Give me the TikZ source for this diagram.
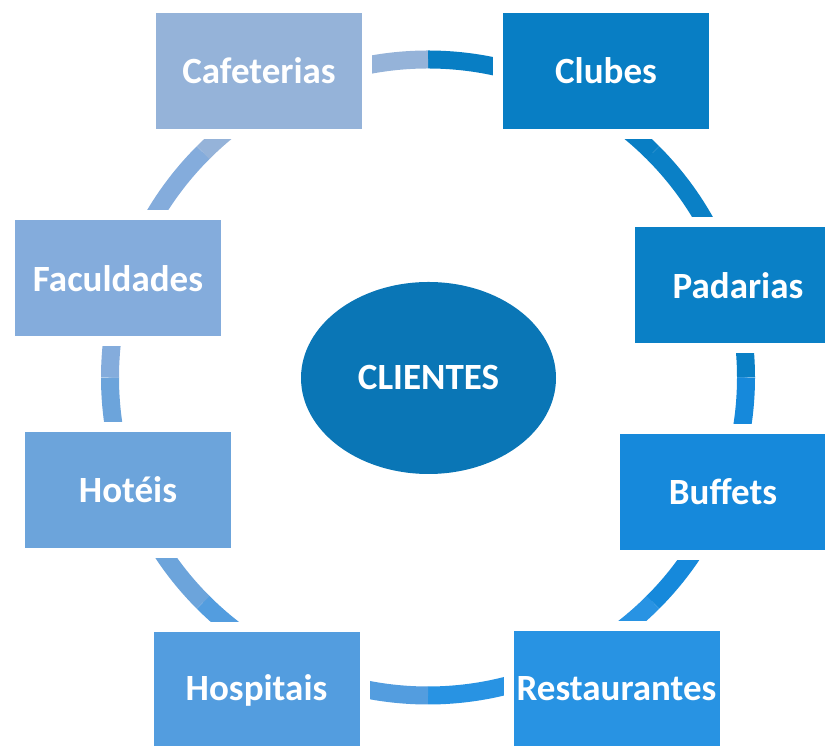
\documentclass[tikz,border=0pt]{standalone}
\usepackage{fontspec}
\setmainfont{Carlito}
\usetikzlibrary{shapes.geometric}
\definecolor{clubes}{HTML}{087EC4}
\definecolor{padarias}{HTML}{0A80C6}
\definecolor{buffets}{HTML}{1689DB}
\definecolor{restaurantes}{HTML}{2893E3}
\definecolor{hospitais}{HTML}{539DDF}
\definecolor{hoteis}{HTML}{6CA4DB}
\definecolor{faculdades}{HTML}{84ACDC}
\definecolor{cafeterias}{HTML}{95B3D9}
\definecolor{clientes}{HTML}{0A76B6}
\begin{document}
\begin{tikzpicture}[x=1pt,y=1pt]
		\tikzstyle{block} = [rectangle,minimum width=216pt,minimum height=126pt,inner sep=0pt,draw=white,line width=10pt,text=white,font=\fontsize{37}{44}\selectfont\bfseries]
		\useasboundingbox (0,0) rectangle (825,746);
		\coordinate (center) at (428,368.5);
		% ring
		\foreach \a/\c in {90/clubes,45/padarias,0/buffets,-45/restaurantes,-90/hospitais,-135/hoteis,180/faculdades,135/cafeterias}
		\draw[line width=18pt,\c] ([shift={(\a:318)}]center) arc[start angle=\a,delta angle=-45,radius=318];
		\node[block,fill=cafeterias]at (259,675)(cafeterias){Cafeterias};
		\node[block,fill=clubes]at (606,675)(clubes){Clubes};
		\node[block,fill=padarias]at (738,460.5)(padarias){Padarias};
		\node[block,fill=buffets]at (723,254)(buffets){Buffets};
		\node[block,fill=restaurantes]at (616.5,57)(restaurantes){Restaurantes};
		\node[block,fill=hospitais]at (256.5,56)(hospitais){Hospitais};
		\node[block,fill=hoteis]at (128,256)(hoteis){Hotéis};
		\node[block,fill=faculdades]at (118,467.5)(faculdades){Faculdades};
		\node[ellipse,fill=clientes,minimum width=255pt,minimum height=192pt,inner sep=0pt,text=white,font=\fontsize{37}{44}\selectfont\bfseries]at (428.5,368)(clientes){CLIENTES};
\end{tikzpicture}
\end{document}
